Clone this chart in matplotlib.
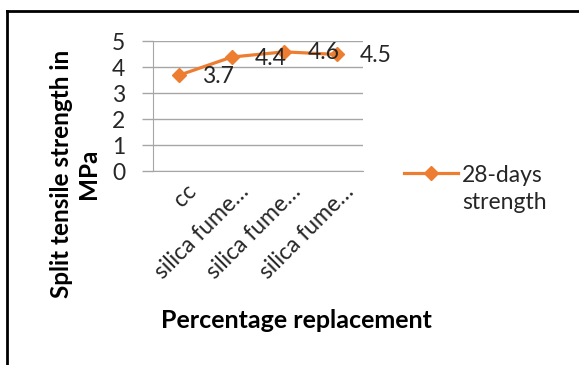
import matplotlib
matplotlib.use("Agg")
import matplotlib.pyplot as plt
import matplotlib.transforms as mtransforms
from matplotlib.lines import Line2D

categories = ["cc", "silica fume\u2026", "silica fume\u2026", "silica fume\u2026"]
values = [3.7, 4.4, 4.6, 4.5]
value_labels = ["3.7", "4.4", "4.6", "4.5"]
yticks = [0, 1, 2, 3, 4, 5]
series_name = "28-days\nstrength"

FONT = ["Lato", "DejaVu Sans"]
plt.rcParams["font.family"] = FONT
ORANGE = "#ED7D31"
GRID = "#A6A6A6"
TXT = "#262626"

W, H = 579, 365
fig = plt.figure(figsize=(W / 100, H / 100), dpi=100)

# outer border (top and left only visible)
fig.add_artist(Line2D([7 / W, 1.0], [1 - 11 / H, 1 - 11 / H], color="black", lw=2, transform=fig.transFigure))
fig.add_artist(Line2D([7 / W, 7 / W], [1 - 11 / H, 0.0], color="black", lw=2, transform=fig.transFigure))

ax = fig.add_axes([153 / W, 1 - 171 / H, (363 - 153) / W, (171 - 41.5) / H])
x = list(range(len(categories)))
ax.plot(x, values, color=ORANGE, lw=2.3, marker="D", markersize=7, zorder=3)
for xi, v, lab in zip(x, values, value_labels):
    ax.annotate(lab, (xi, v), xytext=(23, -1), textcoords="offset pixels",
                ha="left", va="center", fontsize=16.5, color=TXT)

ax.set_xlim(-0.5, len(categories) - 0.5)
ax.set_ylim(0, 5)
ax.set_yticks(yticks)
ax.set_yticklabels([str(t) for t in yticks], fontsize=16.5, color=TXT)
ax.yaxis.grid(True, color=GRID, lw=1)
ax.set_axisbelow(True)
ax.tick_params(axis="y", length=8, width=1, color=GRID, pad=12)
ax.tick_params(axis="x", length=0, pad=7)
ax.set_xticks(x)
ax.set_xticklabels(categories, rotation=45, ha="right", va="top",
                   rotation_mode="anchor", fontsize=16.5, color=TXT)
shift = mtransforms.ScaledTranslation(6 / 100, 0, fig.dpi_scale_trans)
for lbl in ax.get_xticklabels():
    lbl.set_transform(lbl.get_transform() + shift)
for s in ["top", "right"]:
    ax.spines[s].set_visible(False)
ax.spines["left"].set_color(GRID)
ax.spines["bottom"].set_color(GRID)

fig.text(75 / W, 1 - 174 / H, "Split tensile strength in\nMPa", rotation=90,
         ha="center", va="center", fontsize=17.5, fontweight="bold",
         multialignment="center", linespacing=1.2)
fig.text(296 / W, 1 - 320 / H, "Percentage replacement", ha="center", va="center",
         fontsize=18, fontweight="bold")

# legend
fig.add_artist(Line2D([404 / W, 458 / W], [1 - 173 / H, 1 - 173 / H], color=ORANGE, lw=2.3,
                      transform=fig.transFigure))
fig.add_artist(Line2D([431 / W], [1 - 173 / H], color=ORANGE, marker="D", markersize=7,
                      transform=fig.transFigure))
fig.text(462 / W, 1 - 189 / H, series_name, ha="left", va="center", fontsize=16.5,
         color=TXT, linespacing=1.3)

fig.savefig("out.png", dpi=100, facecolor="white")
